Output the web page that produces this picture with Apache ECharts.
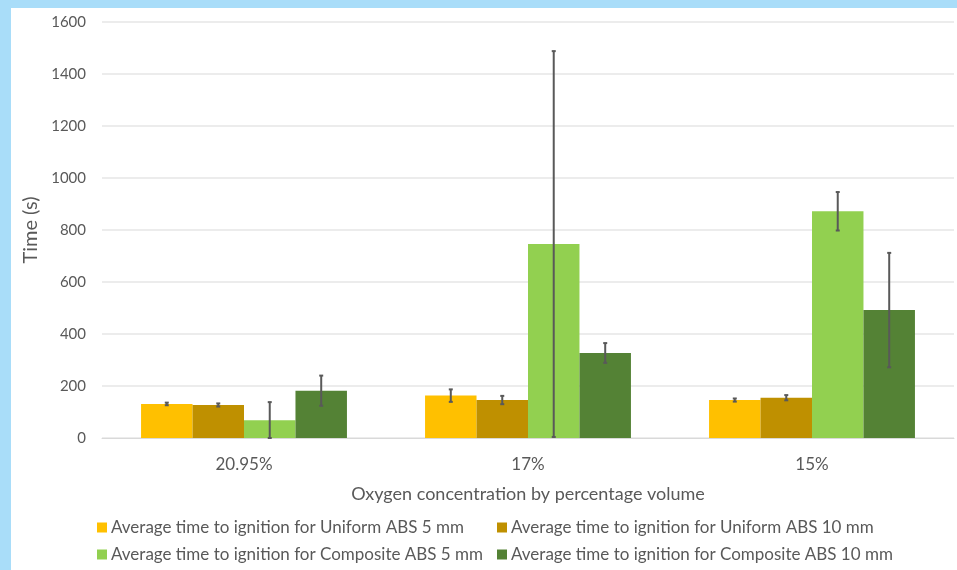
<!DOCTYPE html>
<html>
<head>
<meta charset="utf-8">
<script src="https://cdn.jsdelivr.net/npm/echarts@6/dist/echarts.min.js"></script>
<style>
  html, body { margin: 0; padding: 0; background: #a9ddf9; width: 957px; height: 570px; overflow: hidden; }
  #chart { position: absolute; left: 11px; top: 8px; width: 946px; height: 562px; background: #ffffff; }
</style>
</head>
<body>
<div id="chart"></div>
<script>
// Oxygen concentration categories
const categories = ['20.95%', '17%', '15%'];

// Mean time to ignition (s)
const uniform5 = [131, 163, 146];
const uniform10 = [127, 146, 155];
const composite5 = [68, 746, 872];
const composite10 = [182, 327, 492];

// Standard deviation (s), drawn as symmetric error bars
const uniform5Err = [5, 24, 6];
const uniform10Err = [6, 16, 10];
const composite5Err = [70, 742, 74];
const composite10Err = [58, 38, 220];

const seriesNames = [
  'Average time to ignition for Uniform ABS 5 mm',
  'Average time to ignition for Uniform ABS 10 mm',
  'Average time to ignition for Composite ABS 5 mm',
  'Average time to ignition for Composite ABS 10 mm'
];
const colors = ['#ffc000', '#bf9000', '#92d050', '#548235'];
const means = [uniform5, uniform10, composite5, composite10];
const errs = [uniform5Err, uniform10Err, composite5Err, composite10Err];

const GAP = 0.275;
const FONT = 'Lato, "Open Sans", sans-serif';

function errorSeries(k) {
  const data = means[k].map((v, i) => [i, Math.max(0, v - errs[k][i]), v + errs[k][i]]);
  return {
    type: 'custom',
    name: seriesNames[k] + ' error',
    data: data,
    z: 10,
    silent: true,
    encode: { x: 0, y: [1, 2] },
    renderItem: function (params, api) {
      const band = api.size([1, 0])[0];
      const bw = band * (1 - GAP) / 4;
      const off = (k - 1.5) * bw;
      const lo = api.coord([api.value(0), api.value(1)]);
      const hi = api.coord([api.value(0), api.value(2)]);
      const x = lo[0] + off;
      const cap = 2;
      const style = { stroke: '#595959', lineWidth: 2 };
      return {
        type: 'group',
        children: [
          { type: 'line', shape: { x1: x, y1: hi[1], x2: x, y2: lo[1] }, style: style },
          { type: 'line', shape: { x1: x - cap, y1: hi[1], x2: x + cap, y2: hi[1] }, style: style },
          { type: 'line', shape: { x1: x - cap, y1: lo[1], x2: x + cap, y2: lo[1] }, style: style }
        ]
      };
    }
  };
}

const barSeries = means.map((vals, k) => ({
  type: 'bar',
  name: seriesNames[k],
  data: vals,
  itemStyle: { color: colors[k] },
  barGap: '0%',
  barCategoryGap: (GAP * 100) + '%'
}));

const legendText = { color: '#595959', fontSize: 17, fontFamily: FONT, padding: [0, 0, 0, -1] };
function legendColumn(names, left) {
  return {
    data: names,
    orient: 'vertical',
    top: 506,
    left: left,
    itemWidth: 10,
    itemHeight: 10,
    itemGap: 10,
    icon: 'rect',
    textStyle: legendText
  };
}

const chart = echarts.init(document.getElementById('chart'));
chart.setOption({
  animation: false,
  textStyle: { fontFamily: FONT },
  grid: { left: 91, right: 3, top: 14, bottom: 132 },
  legend: [
    legendColumn([seriesNames[0], seriesNames[2]], 81),
    legendColumn([seriesNames[1], seriesNames[3]], 481)
  ],
  xAxis: {
    type: 'category',
    data: categories,
    name: 'Oxygen concentration by percentage volume',
    nameLocation: 'middle',
    nameGap: 47,
    nameTextStyle: { color: '#595959', fontSize: 18, fontFamily: FONT },
    axisLine: { lineStyle: { color: '#d9d9d9', width: 1 } },
    axisTick: { show: false },
    axisLabel: { color: '#595959', fontSize: 17, margin: 18, fontFamily: FONT }
  },
  yAxis: {
    type: 'value',
    min: 0,
    max: 1600,
    interval: 200,
    name: 'Time (s)',
    nameLocation: 'middle',
    nameGap: 58,
    nameTextStyle: { color: '#595959', fontSize: 20, fontFamily: FONT },
    axisLine: { show: false },
    axisTick: { show: false },
    axisLabel: { color: '#595959', fontSize: 15, margin: 16, fontFamily: FONT, formatter: v => String(v) },
    splitLine: { lineStyle: { color: '#e6e6e6', width: 1.5 } }
  },
  series: barSeries.concat([0, 1, 2, 3].map(errorSeries))
});
</script>
</body>
</html>
